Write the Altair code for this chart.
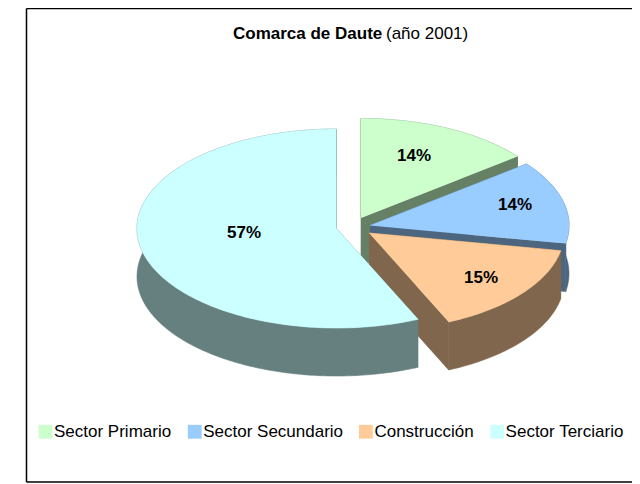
import math
import altair as alt
import pandas as pd

sectors = ["Sector Primario", "Sector Secundario", "Construcción", "Sector Terciario"]
shares = [14.4, 13.5, 15.4, 56.7]
top_colors = ["#CCFFCC", "#99CCFF", "#FFCC99", "#CCFFFF"]
wall_colors = ["#668066", "#4D6680", "#80664D", "#668080"]
title_bold = "Comarca de Daute"
title_rest = "(año 2001)"

# layout of the exploded pie, in reference pixels
apex_x = [361, 370, 369, 336.5]
apex_y = [218, 225.5, 233, 228.5]
radius_x = [199, 199, 195, 199.5]
radius_y = [99.5, 99.5, 97.5, 99.5]
depth = 48
label_x = [414, 515, 481, 244]
label_y = [156, 205, 278, 233]

X = alt.X("x:Q", scale=alt.Scale(domain=[8, 632], nice=False, zero=False), axis=None)
Y = alt.Y("y:Q", scale=alt.Scale(domain=[484, 8], nice=False, zero=False), axis=None)
fill_scale = alt.Scale(domain=sectors, range=top_colors)
legend = alt.Legend(
    title=None, orient="none", legendX=29, legendY=415, direction="horizontal", columns=4,
    symbolType="square", symbolSize=190, symbolStrokeWidth=0, symbolOpacity=1,
    labelFont="Liberation Sans", labelFontSize=17, labelColor="#000000", labelOffset=0,
    columnPadding=14.2, padding=0, labelLimit=300,
)


def polygon_chart(points, sector, wall_color=None):
    df = pd.DataFrame(points, columns=["x", "y"])
    df["i"] = range(len(df))
    df["sector"] = sector
    color = wall_color or top_colors[sectors.index(sector)]
    enc = dict(x=X, y=Y, order="i:Q")
    if wall_color:
        return alt.Chart(df).mark_line(stroke=color, strokeWidth=0.6, fill=color).encode(**enc)
    return alt.Chart(df).mark_line(stroke=color, strokeWidth=0.6).encode(
        fill=alt.Fill("sector:N", scale=fill_scale, legend=legend), **enc
    )


layers = []
total = sum(shares)
cum = 0.0
for s, share, ax, ay, rx, ry, wc in zip(sectors, shares, apex_x, apex_y, radius_x, radius_y, wall_colors):
    t0 = cum / total * 2 * math.pi
    cum += share
    t1 = cum / total * 2 * math.pi
    n = max(int((t1 - t0) * 60), 8)
    arc = [(ax + rx * math.sin(t0 + (t1 - t0) * k / n), ay - ry * math.cos(t0 + (t1 - t0) * k / n)) for k in range(n + 1)]
    down = lambda p: (p[0], p[1] + depth)
    apex = (ax, ay)
    layers.append(polygon_chart(arc + [down(p) for p in reversed(arc)], s, wc))
    for edge in (arc[0], arc[-1]):
        layers.append(polygon_chart([apex, edge, down(edge), down(apex)], s, wc))
    layers.append(polygon_chart([apex] + arc, s))

labels = pd.DataFrame({
    "x": label_x, "y": label_y,
    "t": [f"{round(v / total * 100)}%" for v in shares],
})
layers.append(alt.Chart(labels).mark_text(
    font="Liberation Sans", fontSize=17, fontWeight="bold", color="black"
).encode(x=X, y=Y, text="t:N"))

titles = pd.DataFrame({"x": [233, 386], "y": [34, 34], "t": [title_bold, title_rest], "w": ["bold", "normal"]})
for w in ("bold", "normal"):
    layers.append(alt.Chart(titles[titles.w == w]).mark_text(
        font="Liberation Sans", fontSize=17, fontWeight=w, color="black", align="left"
    ).encode(x=X, y=Y, text="t:N"))

frame = pd.DataFrame({"x": [26.5, 26.5, 26.5], "x2": [26.5, 632, 632], "y": [8.5, 8.5, 482], "y2": [482, 8.5, 482]})
layers.append(alt.Chart(frame).mark_rule(color="black", strokeWidth=1.5).encode(x=X, x2="x2:Q", y=Y, y2="y2:Q"))

chart = alt.layer(*layers).resolve_scale(fill="shared").properties(
    width=624, height=476, padding=0, autosize=alt.AutoSizeParams(type="none"),
).configure_view(stroke=None)

chart.save("out.html", embed_options={"renderer": "svg", "actions": False})
